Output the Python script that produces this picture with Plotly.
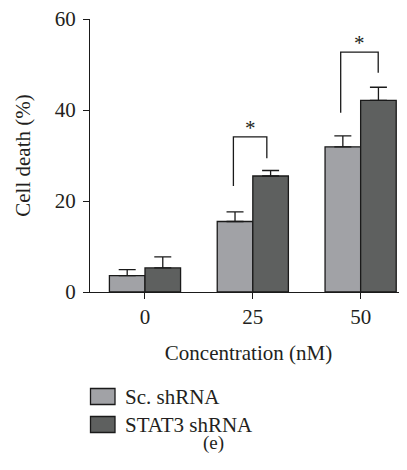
import plotly.graph_objects as go

categories = ["0", "25", "50"]
sc_mean = [3.6, 15.5, 31.9]
sc_err = [1.3, 2.1, 2.4]
stat3_mean = [5.3, 25.5, 42.1]
stat3_err = [2.4, 1.2, 2.9]
series_names = ["Sc. shRNA", "STAT3 shRNA"]
y_ticks = [0, 20, 40, 60]

# significance brackets (data coords): left x, right x, left-leg bottom, top, right-leg bottom
br_left_x = [0.82, 1.815]
br_right_x = [1.13, 2.163]
br_left_bottom = [23.3, 39.4]
br_top = [34.1, 52.7]
br_right_bottom = [29.4, 48.2]

FONT = "Liberation Serif"
FS = 21
TXT = "#231f20"
C_SC = "#a1a2a6"
C_ST = "#5e605f"
LINE = "#1a1a1a"

OFF = 8  # page body margin
W, H = 407 - OFF, 470 - OFF
L, R, T, B = 90 - OFF, 0, 19 - OFF, 178
pw, ph = W - L - R, H - T - B

def px(xp):
    return (xp - OFF - L) / pw

def py(yp):
    return (H - B - (yp - OFF)) / ph

xpos = list(range(len(categories)))

fig = go.Figure()
fig.add_trace(go.Bar(
    x=xpos, y=sc_mean, name=series_names[0],
    marker=dict(color=C_SC, line=dict(color=LINE, width=1.3)),
    error_y=dict(type="data", array=sc_err, arrayminus=[0] * 3, symmetric=False,
                 color=LINE, thickness=1.3, width=8.5),
    showlegend=False,
))
fig.add_trace(go.Bar(
    x=xpos, y=stat3_mean, name=series_names[1],
    marker=dict(color=C_ST, line=dict(color=LINE, width=1.3)),
    error_y=dict(type="data", array=stat3_err, arrayminus=[0] * 3, symmetric=False,
                 color=LINE, thickness=1.3, width=8.5),
    showlegend=False,
))

for i in range(len(br_left_x)):
    fig.add_trace(go.Scatter(
        x=[br_left_x[i], br_left_x[i], br_right_x[i], br_right_x[i]],
        y=[br_left_bottom[i], br_top[i], br_top[i], br_right_bottom[i]],
        mode="lines", line=dict(color=LINE, width=1.3), showlegend=False,
        hoverinfo="skip",
    ))
    fig.add_annotation(
        x=(br_left_x[i] + br_right_x[i]) / 2, y=br_top[i], yshift=-5,
        text="*", showarrow=False, yanchor="bottom",
        font=dict(family=FONT, size=FS, color=TXT),
    )

# manual legend
leg_y = [396.5, 424.5]
colors = [C_SC, C_ST]
for i, name in enumerate(series_names):
    fig.add_shape(type="rect", xref="paper", yref="paper",
                  x0=px(90.5), x1=px(115), y0=py(leg_y[i] - 8), y1=py(leg_y[i] + 8),
                  fillcolor=colors[i], line=dict(color=LINE, width=1.3))
    fig.add_annotation(xref="paper", yref="paper", x=px(123), y=py(leg_y[i]),
                       xanchor="left", yanchor="middle", text=name, showarrow=False,
                       height=22, valign="middle",
                       font=dict(family=FONT, size=FS, color=TXT))

fig.add_annotation(xref="paper", yref="paper", x=px(213), y=py(443),
                   xanchor="center", yanchor="middle", text="(e)", showarrow=False,
                   height=20, valign="middle",
                   font=dict(family=FONT, size=19, color=TXT))

fig.update_layout(
    width=W, height=H,
    margin=dict(l=L, r=R, t=T, b=B, pad=0),
    paper_bgcolor="white", plot_bgcolor="white",
    barmode="group", bargap=0.34, bargroupgap=0,
    font=dict(family=FONT, size=FS, color=TXT),
    xaxis=dict(
        range=[-0.51, 2.43], tickvals=xpos, ticktext=categories,
        showline=True, linecolor=LINE, linewidth=1.3,
        ticks="outside", ticklen=6, tickwidth=1.3, tickcolor=LINE,
        showgrid=False, zeroline=False,
        title=dict(text="Concentration (nM)", standoff=16, font=dict(size=FS)),
        tickfont=dict(size=FS),
    ),
    yaxis=dict(
        range=[0, 60], tickvals=y_ticks,
        showline=True, linecolor=LINE, linewidth=1.3,
        ticks="outside", ticklen=6, tickwidth=1.3, tickcolor=LINE,
        ticklabelstandoff=3, ticklabeloverflow="allow",
        showgrid=False, zeroline=False,
        title=dict(text="Cell death (%)", standoff=18, font=dict(size=FS)),
        tickfont=dict(size=FS),
    ),
)

fig.write_html("out.html")
